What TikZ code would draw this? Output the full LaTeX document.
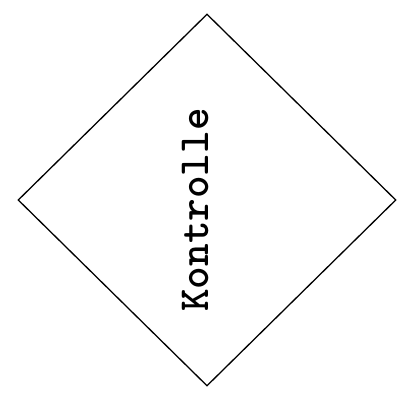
\documentclass[tikz,border=0pt]{standalone}
\usetikzlibrary{shapes.geometric}

\tikzset{
  raute/.style={draw=black, diamond, line width=1.3pt, inner sep=0pt,
    minimum width=378pt, minimum height=372pt},
  rautetext/.style={font=\ttfamily\bfseries\fontsize{43}{43}\selectfont, rotate=90, inner sep=0pt}
}

\begin{document}
\begin{tikzpicture}[x=1pt,y=-1pt]
  \useasboundingbox (0,0) rectangle (401,394);

  % Entscheidungsraute
  \node[raute] (kontrolle) at (207,200) {};

  % Beschriftung (vertikal)
  \node[rautetext] (kontrolletext) at (195,210) {Kontrolle};
\end{tikzpicture}
\end{document}
